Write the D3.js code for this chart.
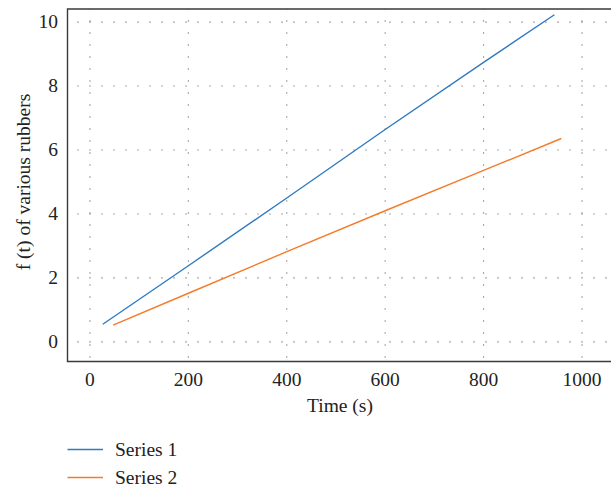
<!DOCTYPE html>
<html><head><meta charset="utf-8">
<script src="https://cdn.jsdelivr.net/npm/d3@7/dist/d3.min.js"></script>
<style>body{margin:0;background:#fff;}svg{display:block;}</style>
</head><body><svg id="c" width="611" height="488"></svg>
<script>
const seriesNames = ["Series 1", "Series 2"];
const s1x = [26, 200, 400, 600, 800, 944];
const s1y = [0.55, 2.38, 4.5, 6.64, 8.74, 10.23];
const s2x = [47, 200, 400, 600, 800, 958];
const s2y = [0.52, 1.52, 2.82, 4.1, 5.36, 6.36];
const xTicks = [0, 200, 400, 600, 800, 1000];
const yTicks = [0, 2, 4, 6, 8, 10];
const colors = ["#2f7bc1", "#f57b2a"];

const FONT = "'Liberation Serif', 'Times New Roman', 'DejaVu Serif', serif";
const FS = "19.5px";
const svg = d3.select("#c");
const L = 67.5, T = 9, B = 361.5, R = 611;
const x = d3.scaleLinear().domain([-45.7, 1057]).range([L, 610]);
const y = d3.scaleLinear().domain([-0.615, 10.41]).range([B, T]);

function txt(sel) {
  return sel.style("font-family", FONT).style("font-size", FS).attr("fill", "#222");
}

const dots = "1,11";
const g = svg.append("g");
g.selectAll(".vg").data(xTicks).enter().append("line")
  .attr("x1", d => x(d)).attr("x2", d => x(d)).attr("y1", B).attr("y2", T)
  .attr("stroke", "#555").attr("stroke-width", 1.1).attr("stroke-dasharray", dots).attr("stroke-dashoffset", -4);
g.selectAll(".hg").data(yTicks).enter().append("line")
  .attr("x1", L).attr("x2", R).attr("y1", d => y(d)).attr("y2", d => y(d))
  .attr("stroke", "#555").attr("stroke-width", 1.1).attr("stroke-dasharray", dots).attr("stroke-dashoffset", -10);

g.append("path").attr("d", `M${R},${T}H${L}V${B}H${R}`).attr("fill", "none")
  .attr("stroke", "#3a3a3a").attr("stroke-width", 1.4);

txt(g.selectAll(".xl").data(xTicks).enter().append("text"))
  .attr("x", d => x(d)).attr("y", 386).attr("text-anchor", "middle").text(d => d);
txt(g.selectAll(".yl").data(yTicks).enter().append("text"))
  .attr("x", 58).attr("y", d => y(d) + 6).attr("text-anchor", "end").text(d => d);

txt(svg.append("text")).attr("x", 340).attr("y", 412).attr("text-anchor", "middle").text("Time (s)");
txt(svg.append("text")).attr("transform", "translate(30,182) rotate(-90)").attr("text-anchor", "middle")
  .text("f (t) of various rubbers");

const line = d3.line().x(d => x(d[0])).y(d => y(d[1]));
const data = [d3.zip(s1x, s1y), d3.zip(s2x, s2y)];
data.forEach((d, i) => {
  svg.append("path").attr("d", line(d)).attr("fill", "none")
    .attr("stroke", colors[i]).attr("stroke-width", 1.4);
});

seriesNames.forEach((n, i) => {
  const ly = 449.5 + i * 28;
  svg.append("line").attr("x1", 67.5).attr("x2", 103).attr("y1", ly).attr("y2", ly)
    .attr("stroke", colors[i]).attr("stroke-width", 1.3);
  txt(svg.append("text")).attr("x", 115).attr("y", ly + 6).text(n);
});
</script></body></html>
